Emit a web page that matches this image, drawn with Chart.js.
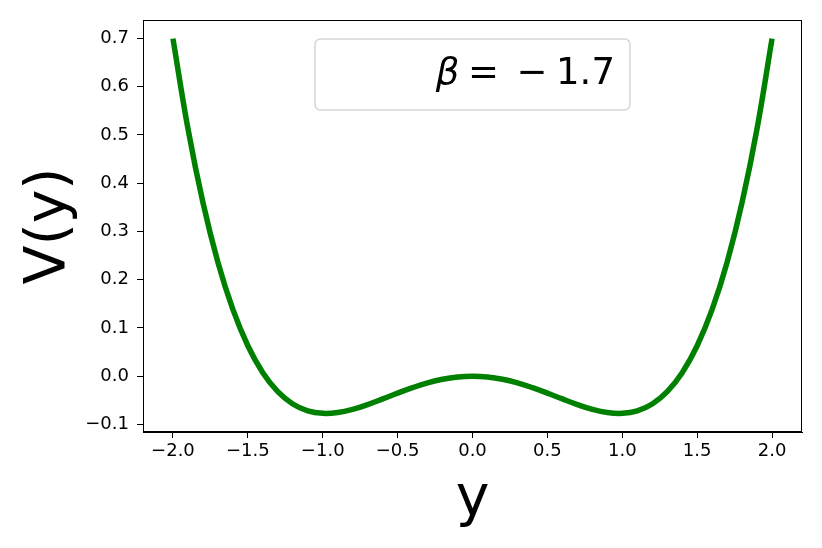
<!DOCTYPE html>
<html>
<head>
<meta charset="utf-8">
<script src="https://cdn.jsdelivr.net/npm/chart.js@4/dist/chart.umd.min.js"></script>
<style>
  html, body { margin: 0; padding: 0; background: #ffffff; }
  #wrap { width: 822px; height: 548px; }
</style>
</head>
<body>
<div id="wrap"><canvas id="c" width="822" height="548"></canvas></div>
<script>
// ---- data ----
const yPositions = [-2.0, -1.9, -1.8, -1.7, -1.6, -1.5, -1.4, -1.3, -1.2, -1.1, -1.0,
                    -0.9, -0.8, -0.7, -0.6, -0.5, -0.4, -0.3, -0.2, -0.1, 0.0,
                     0.1, 0.2, 0.3, 0.4, 0.5, 0.6, 0.7, 0.8, 0.9, 1.0,
                     1.1, 1.2, 1.3, 1.4, 1.5, 1.6, 1.7, 1.8, 1.9, 2.0];
const potential = [0.6996, 0.5133, 0.3601, 0.2363, 0.1385, 0.0632, 0.0073, -0.0320, -0.0574, -0.0716, -0.0768,
                   -0.0751, -0.0685, -0.0586, -0.0470, -0.0349, -0.0236, -0.0138, -0.0063, -0.0016, 0.0000,
                   -0.0016, -0.0063, -0.0138, -0.0236, -0.0349, -0.0470, -0.0586, -0.0685, -0.0751, -0.0768,
                   -0.0716, -0.0574, -0.0320, 0.0073, 0.0632, 0.1385, 0.2363, 0.3601, 0.5133, 0.6996];
const xTickValues = [-2.0, -1.5, -1.0, -0.5, 0.0, 0.5, 1.0, 1.5, 2.0];
const yTickValues = [-0.1, 0.0, 0.1, 0.2, 0.3, 0.4, 0.5, 0.6, 0.7];
const legendLabel = { symbol: "\u03B2", rest: ["=", "\u2212", "1.7"] };
const xAxisTitle = "y";
const yAxisTitle = "V(y)";

const fmt = v => (v < 0 ? "\u2212" : "") + Math.abs(v).toFixed(1);

const frameAndLegend = {
  id: "frameAndLegend",
  afterDraw(chart) {
    const ctx = chart.ctx;
    const a = chart.chartArea;
    ctx.save();
    ctx.strokeStyle = "#000000";
    ctx.lineWidth = 1;
    ctx.strokeRect(Math.round(a.left) + 0.5, Math.round(a.top) + 0.5,
                   Math.round(a.right - a.left) - 1, Math.round(a.bottom - a.top) - 1);
    const cx = (a.left + a.right) / 2;
    const bw = 315, bh = 71;
    const bx = cx - bw / 2, by = a.top + 19;
    const r = 6;
    ctx.beginPath();
    ctx.moveTo(bx + r, by);
    ctx.lineTo(bx + bw - r, by);
    ctx.quadraticCurveTo(bx + bw, by, bx + bw, by + r);
    ctx.lineTo(bx + bw, by + bh - r);
    ctx.quadraticCurveTo(bx + bw, by + bh, bx + bw - r, by + bh);
    ctx.lineTo(bx + r, by + bh);
    ctx.quadraticCurveTo(bx, by + bh, bx, by + bh - r);
    ctx.lineTo(bx, by + r);
    ctx.quadraticCurveTo(bx, by, bx + r, by);
    ctx.closePath();
    ctx.fillStyle = "rgba(255,255,255,0.8)";
    ctx.fill();
    ctx.strokeStyle = "#d6d6d6";
    ctx.lineWidth = 1.5;
    ctx.stroke();
    const base = by + 45;
    ctx.fillStyle = "#000000";
    ctx.textBaseline = "alphabetic";
    ctx.textAlign = "center";
    ctx.font = 'italic 37px "DejaVu Sans"';
    ctx.fillText(legendLabel.symbol, cx - 25, base);
    ctx.font = '37px "DejaVu Sans"';
    const offs = [11, 59.5, 113];
    legendLabel.rest.forEach((t, i) => ctx.fillText(t, cx + offs[i], base));
    ctx.restore();
  }
};

new Chart(document.getElementById("c"), {
  type: "line",
  data: {
    datasets: [{
      data: yPositions.map((x, i) => ({ x: x, y: potential[i] })),
      borderColor: "#008000",
      borderWidth: 5.5,
      pointRadius: 0,
      fill: false,
      tension: 0.4,
      borderCapStyle: "butt"
    }]
  },
  options: {
    responsive: false,
    animation: false,
    devicePixelRatio: 1,
    layout: { padding: { left: 0, top: 20, right: 20, bottom: 0 } },
    plugins: { legend: { display: false }, tooltip: { enabled: false }, title: { display: false } },
    scales: {
      x: {
        type: "linear",
        min: -2.2,
        max: 2.2,
        afterBuildTicks: s => { s.ticks = xTickValues.map(v => ({ value: v })); },
        afterFit: s => { s.height = 116; },
        grid: { display: true, drawOnChartArea: false, drawTicks: true, tickLength: 6, color: "#000000", lineWidth: 1 },
        border: { display: true, color: "#000000", width: 1 },
        ticks: {
          autoSkip: false, maxRotation: 0, minRotation: 0, padding: 3,
          color: "#000000",
          font: { family: "DejaVu Sans", size: 18 },
          callback: v => fmt(v)
        },
        title: {
          display: true, text: xAxisTitle, color: "#000000",
          font: { family: "DejaVu Sans", size: 57, lineHeight: 1 },
          padding: { top: 0, bottom: 19 }
        }
      },
      y: {
        type: "linear",
        min: -0.1155,
        max: 0.7382,
        afterBuildTicks: s => { s.ticks = yTickValues.map(v => ({ value: v })); },
        afterFit: s => { s.width = 143; },
        grid: { display: true, drawOnChartArea: false, drawTicks: true, tickLength: 6, color: "#000000", lineWidth: 1 },
        border: { display: true, color: "#000000", width: 1 },
        ticks: {
          autoSkip: false, padding: 8,
          color: "#000000",
          font: { family: "DejaVu Sans", size: 18 },
          callback: v => fmt(v)
        },
        title: {
          display: true, text: yAxisTitle, color: "#000000",
          font: { family: "DejaVu Sans", size: 57, lineHeight: 1 },
          padding: { top: 22, bottom: 0 }
        }
      }
    }
  },
  plugins: [frameAndLegend]
});
</script>
</body>
</html>
